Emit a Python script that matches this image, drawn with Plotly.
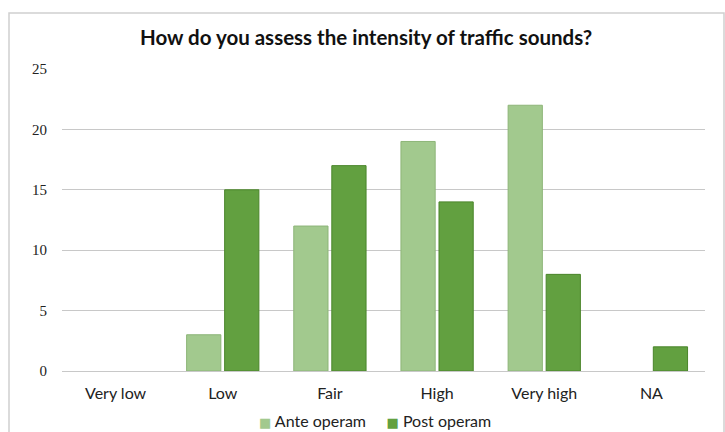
import plotly.graph_objects as go

categories = ["Very low", "Low", "Fair", "High", "Very high", "NA"]
ante_operam = [0, 3, 12, 19, 22, 0]
post_operam = [0, 15, 17, 14, 8, 2]
y_ticks = [0, 5, 10, 15, 20, 25]

series_names = ["Ante operam", "Post operam"]
fill_colors = ["#a2c98e", "#62a040"]
edge_colors = ["#8db578", "#4a852a"]

W, H = 725, 432
ML, MR, MT, MB = 62, 20, 69, 61
pw, ph = W - ML - MR, H - MT - MB
LABEL_FONT = "Lato, Noto Sans, sans-serif"


def px_to_paper_x(px):
    return (px - ML) / pw


def px_to_paper_y(py):
    return (H - MB - py) / ph


def outline_widths(values):
    # no outline on empty bars, so they leave no stub on the baseline
    return [1 if v else 0 for v in values]


fig = go.Figure()
for name, values, fill, edge in zip(series_names, [ante_operam, post_operam], fill_colors, edge_colors):
    fig.add_trace(go.Bar(
        x=categories, y=values, name=name, showlegend=False,
        marker=dict(color=fill, line=dict(color=edge, width=outline_widths(values))),
    ))

# compact legend: small coloured squares right next to each series name
legend_text = "&nbsp;&nbsp;&nbsp;&nbsp;&nbsp;".join(
    f"<span style='color:{fill};font-family:DejaVu Sans;font-size:13px'>■</span> {name}"
    for name, fill in zip(series_names, fill_colors)
)

fig.update_layout(
    width=W, height=H,
    margin=dict(l=ML, r=MR, t=MT, b=MB, autoexpand=False),
    paper_bgcolor="white", plot_bgcolor="white",
    barmode="group", bargap=0.29, bargroupgap=0.1,
    title=dict(
        text="<b>How do you assess the intensity of traffic sounds?</b>",
        x=0.505, xref="container", xanchor="center",
        y=1 - 38 / H, yref="container", yanchor="middle",
        font=dict(family=LABEL_FONT, size=20.5, color="#111111"),
    ),
    xaxis=dict(
        showgrid=False, showline=False, zeroline=False, ticks="", automargin=False,
        tickfont=dict(family=LABEL_FONT, size=16, color="#222222"),
        ticklabelstandoff=11,
    ),
    yaxis=dict(
        range=[0, 25], tickvals=y_ticks, showgrid=True, gridcolor="#c8c8c8", gridwidth=1.3,
        zeroline=True, zerolinecolor="#c8c8c8", zerolinewidth=1.3, showline=False, ticks="",
        automargin=False,
        tickfont=dict(family="Liberation Serif, serif", size=15, color="#222222"),
        ticklabelstandoff=14,
    ),
    annotations=[dict(
        text=legend_text, showarrow=False,
        xref="paper", yref="paper", x=px_to_paper_x(375), y=px_to_paper_y(420),
        xanchor="center", yanchor="middle",
        font=dict(family=LABEL_FONT, size=16, color="#222222"),
    )],
    shapes=[dict(
        type="rect", xref="paper", yref="paper",
        x0=px_to_paper_x(9), x1=px_to_paper_x(724),
        y0=px_to_paper_y(445), y1=px_to_paper_y(13),
        line=dict(color="#d0d0d0", width=1.5), fillcolor="rgba(0,0,0,0)", layer="below",
    )],
)

fig.write_html("out.html")
